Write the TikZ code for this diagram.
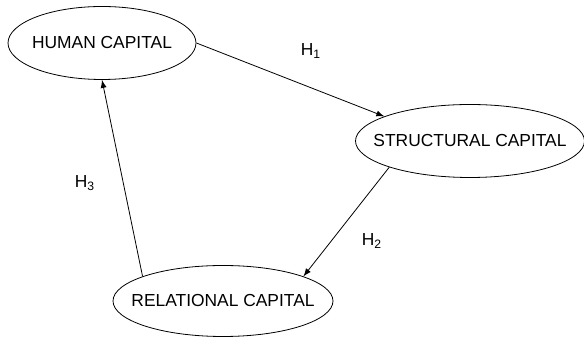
\documentclass[tikz,border=0pt]{standalone}
\usepackage{fontspec}
\setmainfont{Liberation Sans}
\usetikzlibrary{shapes.geometric}
\begin{document}
\begin{tikzpicture}[x=0.5pt,y=-0.5pt,->,>=latex,font=\fontsize{8.7}{10}\selectfont,
	capnode/.style={ellipse,draw,inner xsep=-20pt,inner ysep=0pt,minimum height=36.5pt}]
	\useasboundingbox (0,0) rectangle (584,341);
	\node [capnode,minimum width=94pt] (human) at (102,43) {HUMAN CAPITAL};
	\node [capnode,minimum width=114.5pt] (structural) at (470,141) {STRUCTURAL CAPITAL};
	\node [capnode,minimum width=110pt,minimum height=35.5pt] (relational) at (223,301) {RELATIONAL CAPITAL};
	\node (h1) at (311,51) {H\textsubscript{1}};
	\node (h2) at (372,241) {H\textsubscript{2}};
	\node (h3) at (85,183) {H\textsubscript{3}};
	\path (human.east) edge (structural.164);
	\path (structural.198) edge (relational.17);
	\path (relational.163) edge (human.south);
\end{tikzpicture}
\end{document}
